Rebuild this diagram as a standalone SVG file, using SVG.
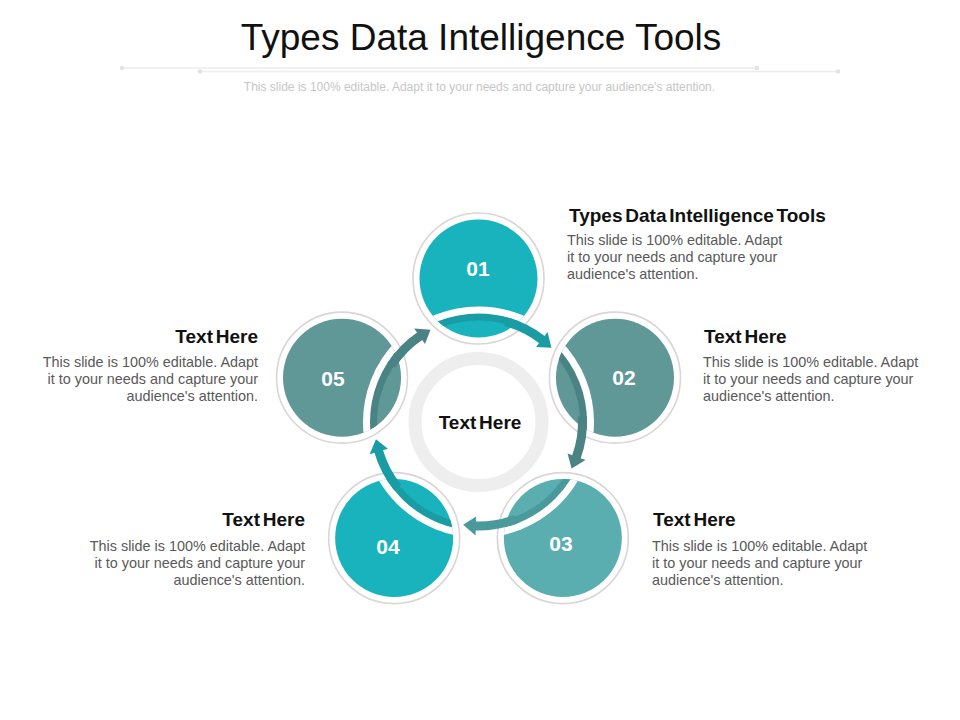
<svg xmlns="http://www.w3.org/2000/svg" width="960" height="720" viewBox="0 0 960 720">
<style>
text{font-family:"Liberation Sans",Arial,sans-serif}
.h{font-weight:bold;font-size:19px;fill:#111;word-spacing:-2.5px}
.b{font-size:14.4px;fill:#595959}
.r{text-anchor:end}
.num{font-weight:bold;font-size:21px;fill:#fff;text-anchor:middle}
.bord{fill:#fff;stroke:#dcd5d5;stroke-width:1.6}
.wl{fill:none;stroke:#fff;stroke-width:7}
.deco{stroke:#ececec;stroke-width:1.3}
.dot{fill:#e3e3e3}
.body{fill:none;stroke-width:9}
</style>
<defs>
<clipPath id="c1"><circle cx="478.5" cy="278.5" r="59"/></clipPath>
<clipPath id="c2"><circle cx="614.98" cy="377.66" r="59"/></clipPath>
<clipPath id="c3"><circle cx="562.85" cy="538.09" r="59"/></clipPath>
<clipPath id="c4"><circle cx="394.15" cy="538.09" r="59"/></clipPath>
<clipPath id="c5"><circle cx="342.02" cy="377.66" r="59"/></clipPath>
</defs>
<rect width="960" height="720" fill="#fff"/>

<g id="header">
<text x="481" y="50" font-size="37" fill="#111" text-anchor="middle">Types Data Intelligence Tools</text>
<line class="deco" x1="122" y1="68" x2="757" y2="68"/>
<line class="deco" x1="200" y1="71.5" x2="838" y2="71.5"/>
<circle class="dot" cx="122" cy="68" r="2.3"/>
<circle class="dot" cx="757" cy="68" r="2.3"/>
<circle class="dot" cx="200" cy="71.5" r="2.3"/>
<circle class="dot" cx="838" cy="71.5" r="2.3"/>
<text x="479.5" y="91" font-size="12" fill="#c6c6c6" text-anchor="middle">This slide is 100% editable. Adapt it to your needs and capture your audience's attention.</text>
</g>

<g id="center">
<circle cx="478.5" cy="422" r="63.5" fill="none" stroke="#eeeeee" stroke-width="13"/>
<text class="h" x="480" y="428.5" text-anchor="middle" font-size="18.7">Text Here</text>
</g>

<g id="node01">
<circle class="bord" cx="478.5" cy="278.5" r="65.5"/>
<circle cx="478.5" cy="278.5" r="59" fill="#19b3bd"/>
<g clip-path="url(#c1)">
<circle cx="478.5" cy="422" r="105" fill="none" stroke="#1a9ca5" stroke-width="7"/>
<circle class="wl" cx="478.5" cy="422" r="112"/>
</g>
<text class="num" x="478" y="275.5">01</text>
</g>

<g id="node02">
<circle class="bord" cx="614.98" cy="377.66" r="65.5"/>
<circle cx="614.98" cy="377.66" r="59" fill="#609797"/>
<g clip-path="url(#c2)">
<circle cx="478.5" cy="422" r="105" fill="none" stroke="#4a8383" stroke-width="7"/>
<circle class="wl" cx="478.5" cy="422" r="112"/>
</g>
<text class="num" x="624" y="384.5">02</text>
</g>

<g id="node03">
<circle class="bord" cx="562.85" cy="538.09" r="65.5"/>
<circle cx="562.85" cy="538.09" r="59" fill="#5aaeb0"/>
<g clip-path="url(#c3)">
<circle cx="478.5" cy="422" r="105" fill="none" stroke="#4a9a9c" stroke-width="7"/>
<circle class="wl" cx="478.5" cy="422" r="112"/>
</g>
<text class="num" x="561" y="550.5">03</text>
</g>

<g id="node04">
<circle class="bord" cx="394.15" cy="538.09" r="65.5"/>
<circle cx="394.15" cy="538.09" r="59" fill="#19b3bd"/>
<g clip-path="url(#c4)">
<circle cx="478.5" cy="422" r="105" fill="none" stroke="#1a9ca5" stroke-width="7"/>
<circle class="wl" cx="478.5" cy="422" r="112"/>
</g>
<text class="num" x="388" y="553.5">04</text>
</g>

<g id="node05">
<circle class="bord" cx="342.02" cy="377.66" r="65.5"/>
<circle cx="342.02" cy="377.66" r="59" fill="#609797"/>
<g clip-path="url(#c5)">
<circle cx="478.5" cy="422" r="105" fill="none" stroke="#4a8383" stroke-width="7"/>
<circle class="wl" cx="478.5" cy="422" r="112"/>
</g>
<text class="num" x="333" y="385.5">05</text>
</g>

<g id="connectors">
<path class="body" stroke="#1a9ca5" d="M505.42 321.54 A104 104 0 0 1 542.53 340.05"/>
<polygon fill="#1a9ca5" points="547.59,331.95 551.39,347.82 536.03,347.03"/>
<path class="body" stroke="#4a8383" d="M582.36 416.56 A104 104 0 0 1 576.23 457.57"/>
<polygon fill="#4a8383" points="585.49,459.89 571.57,468.40 567.58,453.54"/>
<path class="body" stroke="#4a9a9c" d="M515.77 519.09 A104 104 0 0 1 474.87 525.94"/>
<polygon fill="#4a9a9c" points="475.53,535.46 463.13,524.86 476.03,516.47"/>
<path class="body" stroke="#1a9ca5" d="M397.68 487.45 A104 104 0 0 1 378.53 450.67"/>
<polygon fill="#1a9ca5" points="369.67,454.24 375.93,439.17 387.89,448.84"/>
<path class="body" stroke="#4a8383" d="M391.28 365.36 A104 104 0 0 1 420.34 335.78"/>
<polygon fill="#4a8383" points="414.21,328.46 430.48,329.75 424.98,344.12"/>
</g>

<g id="text01">
<text class="h" x="569" y="221.5">Types Data Intelligence Tools</text>
<text class="b" x="567" y="245">This slide is 100% editable. Adapt</text>
<text class="b" x="567" y="262">it to your needs and capture your</text>
<text class="b" x="567" y="279">audience's attention.</text>
</g>
<g id="text02">
<text class="h" x="704" y="342.5">Text Here</text>
<text class="b" x="703" y="366.5">This slide is 100% editable. Adapt</text>
<text class="b" x="703" y="383.5">it to your needs and capture your</text>
<text class="b" x="703" y="400.5">audience's attention.</text>
</g>
<g id="text05">
<text class="h r" x="258" y="342.5">Text Here</text>
<text class="b r" x="258" y="366.5">This slide is 100% editable. Adapt</text>
<text class="b r" x="258" y="383.5">it to your needs and capture your</text>
<text class="b r" x="258" y="400.5">audience's attention.</text>
</g>
<g id="text03">
<text class="h" x="653" y="525.5">Text Here</text>
<text class="b" x="652" y="550.5">This slide is 100% editable. Adapt</text>
<text class="b" x="652" y="567.5">it to your needs and capture your</text>
<text class="b" x="652" y="584.5">audience's attention.</text>
</g>
<g id="text04">
<text class="h r" x="305" y="525.5">Text Here</text>
<text class="b r" x="305" y="550.5">This slide is 100% editable. Adapt</text>
<text class="b r" x="305" y="567.5">it to your needs and capture your</text>
<text class="b r" x="305" y="584.5">audience's attention.</text>
</g>
</svg>
